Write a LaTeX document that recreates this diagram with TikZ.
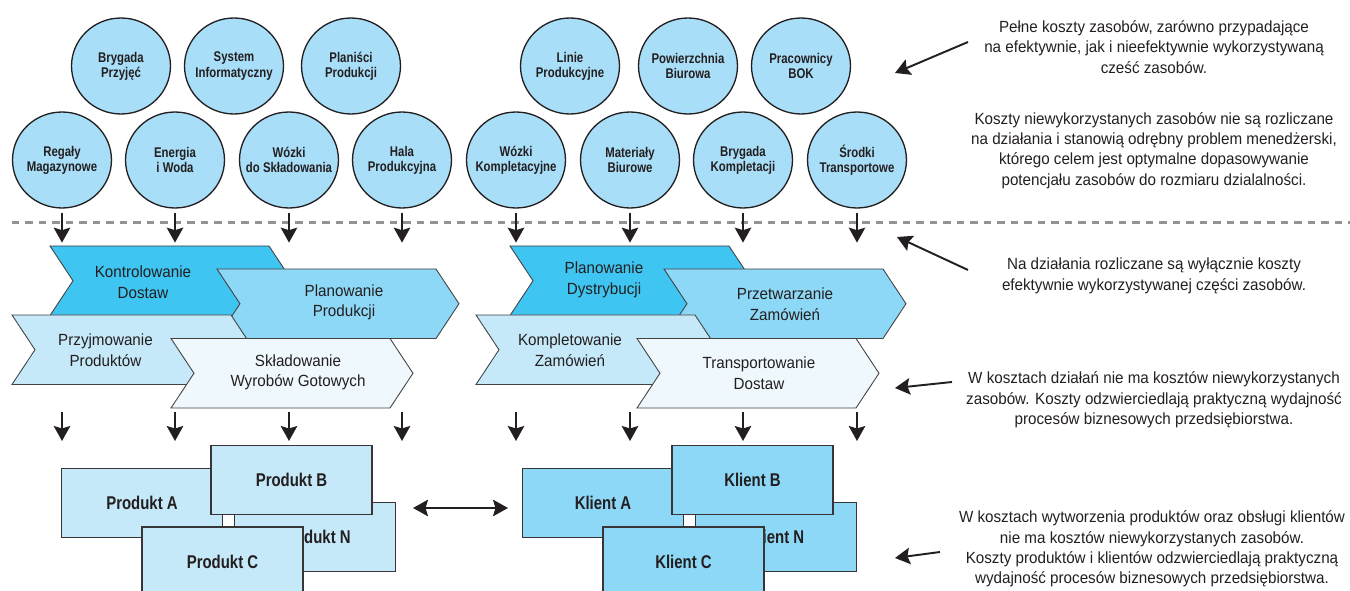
\documentclass[tikz,border=0pt]{standalone}
\usepackage{fontspec}
\setmainfont{Liberation Sans}[FakeStretch=0.94]
\newfontfamily\narrowbold{Liberation Sans}[FakeStretch=0.81]
\usetikzlibrary{arrows.meta,shapes.geometric,calc}

\definecolor{res}{RGB}{168,222,247}
\definecolor{actA}{RGB}{62,197,241}
\definecolor{actB}{RGB}{141,216,246}
\definecolor{actC}{RGB}{198,233,249}
\definecolor{actD}{RGB}{239,248,253}
\definecolor{ink}{RGB}{35,31,32}
\definecolor{dashgray}{RGB}{145,147,150}

\newcommand{\actshape}[3]{\filldraw[chev, fill=#3] (#1,#2) -- ++(219,0) -- ++(23,34.75) -- ++(-23,34.75) -- ++(-219,0) -- ++(23,-34.75) -- cycle;}

\tikzset{
  resource/.style={ellipse, draw=ink, line width=0.75pt, fill=res, minimum width=19.8mm, minimum height=19.2mm, inner sep=0pt},
  restext/.style={align=center, text=ink, font=\narrowbold\bfseries\fontsize{8}{8.6}\selectfont},
  chev/.style={draw=ink!85, line width=0.5pt},
  acttext/.style={align=center, text=ink, font=\fontsize{9.2}{11.7}\selectfont},
  object/.style={rectangle, draw=ink!90, line width=0.7pt, minimum width=32.2mm, minimum height=13.8mm, inner sep=0pt, text=ink, font=\narrowbold\bfseries\fontsize{10.5}{12}\selectfont},
  note/.style={align=center, text=ink, font=\fontsize{9.2}{11.6}\selectfont},
  arr/.style={-{Stealth[length=3mm,width=3.3mm,inset=0.5mm]}, line width=1.1pt, draw=ink},
  twoarr/.style={{Stealth[length=3mm,width=3.3mm,inset=0.5mm]}-{Stealth[length=3mm,width=3.3mm,inset=0.5mm]}, line width=1.1pt, draw=ink},
  cut/.style={draw=dashgray, line width=1.5pt, dash pattern=on 1.5mm off 1.2mm}
}

\begin{document}
\begin{tikzpicture}[x=0.02cm, y=-0.02cm]
\useasboundingbox (0,0) rectangle (1350,591);
\clip (0,0) rectangle (1350,591);

\node[resource, label={[restext]center:Brygada\\Przyjęć}] (brygP) at (121,66) {};
\node[resource, label={[restext]center:System\\Informatyczny}] (system) at (234,66) {};
\node[resource, label={[restext]center:Planiści\\Produkcji}] (planisci) at (351,66) {};
\node[resource, label={[restext]center:Regały\\Magazynowe}] (regaly) at (62,160) {};
\node[resource, label={[restext]center:Energia\\i Woda}] (energia) at (175,160) {};
\node[resource, label={[restext]center:Wózki\\do Składowania}] (wozkiS) at (289,160) {};
\node[resource, label={[restext]center:Hala\\Produkcyjna}] (hala) at (402,160) {};

\node[resource, label={[restext]center:Linie\\Produkcyjne}] (linie) at (570,66) {};
\node[resource, label={[restext]center:Powierzchnia\\Biurowa}] (powierz) at (688,66) {};
\node[resource, label={[restext]center:Pracownicy\\BOK}] (pracow) at (801,66) {};
\node[resource, label={[restext]center:Wózki\\Kompletacyjne}] (wozkiK) at (516,160) {};
\node[resource, label={[restext]center:Materiały\\Biurowe}] (material) at (630,160) {};
\node[resource, label={[restext]center:Brygada\\Kompletacji}] (brygK) at (743,160) {};
\node[resource, label={[restext]center:Środki\\Transportowe}] (srodki) at (857,160) {};

\coordinate (cutL) at (12,222.5);
\coordinate (cutR) at (1350,222.5);
\draw[cut] (cutL) -- (cutR);

\coordinate (lower) at (0,412);
\foreach \r in {regaly,energia,wozkiS,hala,wozkiK,material,brygK,srodki}{
  \draw[arr] ($(\r.south)+(0,4)$) -- ++(0,30);
  \draw[arr] (\r.south |- lower) -- ++(0,29);
}

\actshape{50}{246}{actA}
\node[acttext] (kontrol) at (143,282) {Kontrolowanie\\Dostaw};
\actshape{217}{269}{actB}
\node[acttext] (planP) at (344,302.5) {Planowanie\\Produkcji};
\actshape{12}{315}{actC}
\node[acttext] (przyjm) at (105.5,350.5) {Przyjmowanie\\Produktów};
\actshape{171}{338.5}{actD}
\node[acttext] (sklad) at (298,372.5) {Składowanie\\Wyrobów Gotowych};

\actshape{510}{246}{actA}
\node[acttext] (planD) at (604,280) {Planowanie\\Dystrybucji};
\actshape{664}{269}{actB}
\node[acttext] (przetw) at (785,304) {Przetwarzanie\\Zamówień};
\actshape{476}{315}{actC}
\node[acttext] (komplet) at (570,350) {Kompletowanie\\Zamówień};
\actshape{637}{338.5}{actD}
\node[acttext] (transp) at (759,373.5) {Transportowanie\\Dostaw};

\node[object, fill=actC] (prodA) at (142,503) {Produkt A};
\node[object, fill=actC] (prodN) at (315,537) {Produkt N};
\node[object, fill=actC] (prodB) at (291.5,480) {Produkt B};
\node[object, fill=actC] (prodC) at (222.5,561.5) {Produkt C};

\node[object, fill=actB] (klientA) at (603,503) {Klient A};
\node[object, fill=actB] (klientN) at (776,537) {Klient N};
\node[object, fill=actB] (klientB) at (752.5,480) {Klient B};
\node[object, fill=actB] (klientC) at (683.5,561.5) {Klient C};

\coordinate (linkL) at (413,508);
\coordinate (linkR) at (508,508);
\draw[twoarr] (linkL) -- (linkR);

\node[note] (note1) at (1154,47) {Pełne koszty zasobów, zarówno przypadające\\na efektywnie, jak i nieefektywnie wykorzystywaną\\cześć zasobów.};
\node[note] (note2) at (1154,150.5) {Koszty niewykorzystanych zasobów nie są rozliczane\\na działania i stanowią odrębny problem menedżerski,\\którego celem jest optymalne dopasowywanie\\potencjału zasobów do rozmiaru dzialalności.};
\node[note] (note3) at (1154,276) {Na działania rozliczane są wyłącznie koszty\\efektywnie wykorzystywanej części zasobów.};
\node[note] (note4) at (1154,400) {W kosztach działań nie ma kosztów niewykorzystanych\\zasobów. Koszty odzwierciedlają praktyczną wydajność\\procesów biznesowych przedsiębiorstwa.};
\node[note] (note5) at (1152,549) {W kosztach wytworzenia produktów oraz obsługi klientów\\nie ma kosztów niewykorzystanych zasobów.\\Koszty produktów i klientów odzwierciedlają praktyczną\\wydajność procesów biznesowych przedsiębiorstwa.};

\coordinate (p1s) at (968,42);
\coordinate (p1e) at (895,73);
\coordinate (p2s) at (968,270);
\coordinate (p2e) at (897,237);
\coordinate (p3s) at (952,382);
\coordinate (p3e) at (895,388);
\coordinate (p4s) at (940,552);
\coordinate (p4e) at (895,558);
\draw[arr] (p1s) -- (p1e);
\draw[arr] (p2s) -- (p2e);
\draw[arr] (p3s) -- (p3e);
\draw[arr] (p4s) -- (p4e);
\end{tikzpicture}
\end{document}
